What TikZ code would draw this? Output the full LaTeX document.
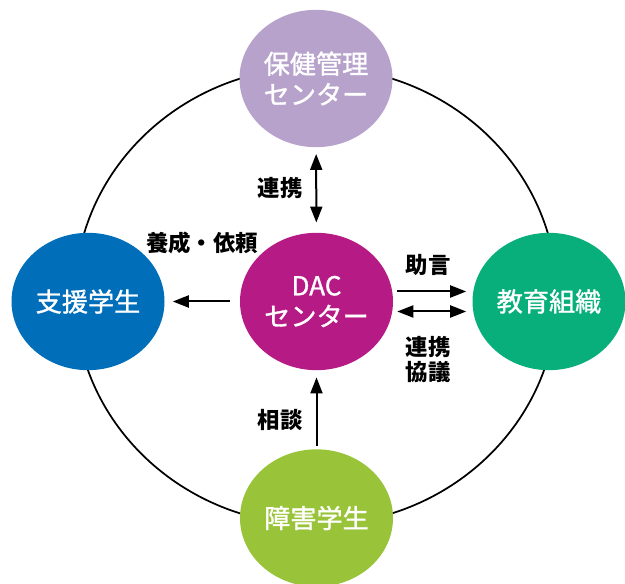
\documentclass[tikz,border=0pt]{standalone}
\usepackage{fontspec}
\setmainfont{Noto Sans CJK JP}
\newfontfamily\nodefont[FakeBold=1.2]{Noto Sans CJK JP}
\usetikzlibrary{arrows.meta,shapes.geometric}
\definecolor{cpurple}{RGB}{183,162,204}
\definecolor{cblue}{RGB}{0,110,185}
\definecolor{cmagenta}{RGB}{182,26,132}
\definecolor{cgreen}{RGB}{9,175,122}
\definecolor{clime}{RGB}{153,196,58}
\begin{document}
\begin{tikzpicture}[x=0.75pt,y=-0.75pt,
  bub/.style={ellipse, minimum width=114.75pt, minimum height=103pt, inner sep=0pt,
    text=white, font=\nodefont\fontsize{19.6}{23}\selectfont, align=center},
  lab/.style={font=\bfseries\fontsize{16.8}{18.75}\selectfont, align=center, inner sep=0pt},
  arr/.style={line width=1.5pt, -{Triangle[length=12pt,width=9pt]}},
  darr/.style={line width=1.5pt, {Triangle[length=12pt,width=9pt]}-{Triangle[length=12pt,width=9pt]}}]
\useasboundingbox (0,0) rectangle (625,584);
\clip (0,0) rectangle (625,584);
\draw[line width=1.3pt] (316,296) ellipse [x radius=241, y radius=229];
\node[bub, fill=cpurple] (top) at (316,78.5) {保健管理\\センター};
\node[bub, fill=cblue] (left) at (88,301.5) {支援学生};
\node[bub, fill=cmagenta] (dac) at (316.5,301.5) {DAC\\センター};
\node[bub, fill=cgreen] (right) at (549,301.5) {教育組織};
\node[bub, fill=clime] (bottom) at (316.5,518) {障害学生};
\draw[darr, shorten <=4.9pt, shorten >=7.5pt] (top) -- (dac);
\draw[arr, shorten <=7.5pt, shorten >=6pt] (dac) -- (left);
\draw[arr, shorten <=3pt, shorten >=4.5pt] ([yshift=7.5pt]dac.east) -- ([yshift=7.5pt]right.west);
\draw[darr, shorten <=3pt, shorten >=4.5pt] ([yshift=-7.5pt]dac.east) -- ([yshift=-7.5pt]right.west);
\draw[arr, shorten <=2.25pt, shorten >=5.25pt] (bottom) -- (dac);
\node[lab] (l1) at (280,188) {連携};
\node[lab] (l2) at (202,243) {養成・依頼};
\node[lab] (l3) at (428,265) {助言};
\node[lab] (l4) at (428,359.5) {連携\\協議};
\node[lab] (l5) at (280,420) {相談};
\end{tikzpicture}
\end{document}
